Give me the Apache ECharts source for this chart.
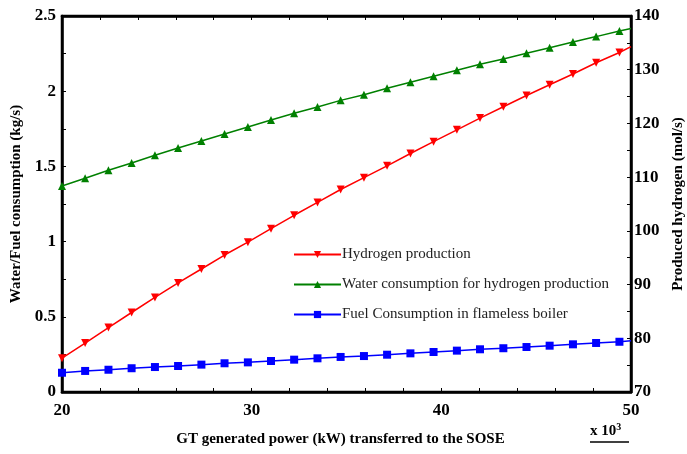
<!DOCTYPE html>
<html>
<head>
<meta charset="utf-8">
<script src="https://cdn.jsdelivr.net/npm/echarts@6/dist/echarts.min.js"></script>
<style>
  html, body { margin: 0; padding: 0; background: #fff; }
  #chart { width: 687px; height: 454px; }
</style>
</head>
<body>
<div id="chart"></div>
<script>
  // GT power (x 10^3 kW) - markers every other sample, last point at 50 has no marker
  var powerKW = [20, 21.22, 22.45, 23.67, 24.90, 26.12, 27.35, 28.57, 29.80, 31.02, 32.24, 33.47, 34.69,
                 35.92, 37.14, 38.37, 39.59, 40.82, 42.04, 43.27, 44.49, 45.71, 46.94, 48.16, 49.39, 50];
  // mol/s (right axis)
  var hydrogen = [76.3, 79.1, 82.0, 84.8, 87.6, 90.3, 92.9, 95.5, 97.9, 100.4, 102.9, 105.3, 107.7,
                  109.9, 112.1, 114.4, 116.6, 118.8, 121.0, 123.1, 125.2, 127.2, 129.2, 131.3, 133.2, 134.3];
  // kg/s (left axis)
  var water = [1.370, 1.421, 1.474, 1.523, 1.574, 1.622, 1.669, 1.715, 1.762, 1.809, 1.853, 1.895, 1.939,
               1.977, 2.019, 2.059, 2.099, 2.139, 2.179, 2.214, 2.252, 2.289, 2.327, 2.363, 2.400, 2.417];
  var fuel = [0.128, 0.140, 0.148, 0.158, 0.166, 0.173, 0.182, 0.191, 0.197, 0.206, 0.215, 0.224, 0.233,
              0.239, 0.248, 0.257, 0.266, 0.275, 0.284, 0.291, 0.299, 0.308, 0.317, 0.326, 0.334, 0.340];

  var seriesNames = ['Hydrogen production', 'Water consumption for hydrogen production', 'Fuel Consumption in flameless boiler'];

  function pairs(ys) {
    return powerKW.map(function (x, i) {
      var item = { value: [x, ys[i]] };
      if (i === powerKW.length - 1) item.symbol = 'none';
      return item;
    });
  }

  var serif = 'Liberation Serif';
  var tickLabel = { color: '#000', fontFamily: serif, fontWeight: 'bold', fontSize: 17 };
  var axisLine = { show: true, lineStyle: { color: '#000', width: 2.5 } };

  var chart = echarts.init(document.getElementById('chart'));
  chart.setOption({
    animation: false,
    backgroundColor: '#fff',
    grid: { left: 62, right: 56, top: 16, bottom: 62, outerBoundsMode: 'none',
            show: true, borderColor: '#000', borderWidth: 2.5 },
    legend: {
      orient: 'vertical',
      left: 293,
      top: 247,
      padding: 0,
      itemWidth: 47,
      itemHeight: 9,
      itemGap: 15,
      data: seriesNames,
      textStyle: { color: '#222', fontFamily: serif, fontSize: 15, padding: [0, 0, 0, -4] }
    },
    xAxis: [{
      type: 'value', min: 20, max: 50, interval: 10,
      axisLine: axisLine,
      axisTick: { inside: true, length: 4, lineStyle: { color: '#000' } },
      minorTick: { show: true, splitNumber: 5, length: 4, lineStyle: { color: '#000' } },
      splitLine: { show: false },
      axisLabel: Object.assign({ margin: 10 }, tickLabel),
      name: 'GT generated power (kW) transferred to the SOSE',
      nameLocation: 'middle', nameGap: 40,
      nameTextStyle: { color: '#000', fontFamily: serif, fontWeight: 'bold', fontSize: 15, padding: [0, 12, 0, 0] }
    }, {
      type: 'value', min: 20, max: 50, interval: 10, position: 'top',
      axisLine: axisLine,
      axisTick: { inside: true, length: 4, lineStyle: { color: '#000' } },
      minorTick: { show: true, splitNumber: 5, length: 4, lineStyle: { color: '#000' } },
      splitLine: { show: false },
      axisLabel: { show: false }
    }],
    yAxis: [{
      type: 'value', min: 0, max: 2.5, interval: 0.5,
      axisLine: axisLine,
      axisTick: { inside: true, length: 4, lineStyle: { color: '#000' } },
      minorTick: { show: true, splitNumber: 2, length: 4, lineStyle: { color: '#000' } },
      splitLine: { show: false },
      axisLabel: Object.assign({ margin: 6 }, tickLabel),
      name: 'Water/Fuel consumption (kg/s)',
      nameLocation: 'middle', nameGap: 33,
      nameTextStyle: { color: '#000', fontFamily: serif, fontWeight: 'bold', fontSize: 15 }
    }, {
      type: 'value', min: 70, max: 140, interval: 10, position: 'right',
      axisLine: axisLine,
      axisTick: { inside: true, length: 4, lineStyle: { color: '#000' } },
      minorTick: { show: true, splitNumber: 2, length: 4, lineStyle: { color: '#000' } },
      splitLine: { show: false },
      axisLabel: Object.assign({ margin: 3 }, tickLabel),
      name: 'Produced hydrogen (mol/s)',
      nameLocation: 'middle', nameGap: 40,
      nameTextStyle: { color: '#000', fontFamily: serif, fontWeight: 'bold', fontSize: 15 }
    }],
    graphic: [{
      type: 'text', left: 590, top: 422,
      style: {
        text: '{a|x 10}{s|3}',
        rich: {
          a: { fontFamily: serif, fontWeight: 'bold', fontSize: 15, fill: '#000' },
          s: { fontFamily: serif, fontWeight: 'bold', fontSize: 10, fill: '#000', verticalAlign: 'top', padding: [0, 0, 8, 0] }
        }
      }
    }, {
      type: 'line', shape: { x1: 590, y1: 442, x2: 629, y2: 442 },
      style: { stroke: '#000', lineWidth: 1.5 }
    }],
    series: [{
      name: seriesNames[0], type: 'line', yAxisIndex: 1,
      data: pairs(hydrogen),
      symbol: 'triangle', symbolRotate: 180, symbolSize: 8, showAllSymbol: true,
      lineStyle: { color: '#ff0000', width: 1.5 },
      itemStyle: { color: '#ff0000' }
    }, {
      name: seriesNames[1], type: 'line', yAxisIndex: 0,
      data: pairs(water),
      symbol: 'triangle', symbolSize: 8, showAllSymbol: true,
      lineStyle: { color: '#008000', width: 1.5 },
      itemStyle: { color: '#008000' }
    }, {
      name: seriesNames[2], type: 'line', yAxisIndex: 0,
      data: pairs(fuel),
      symbol: 'rect', symbolSize: 8, showAllSymbol: true,
      lineStyle: { color: '#0000ff', width: 1.5 },
      itemStyle: { color: '#0000ff' }
    }]
  });
</script>
</body>
</html>
